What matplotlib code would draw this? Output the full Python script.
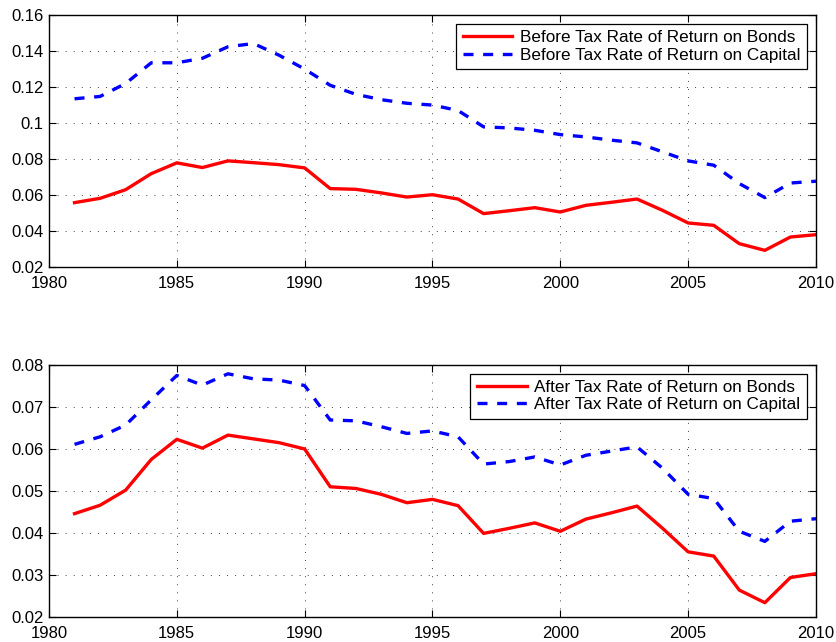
import numpy as np
import matplotlib
matplotlib.use('Agg')
import matplotlib.pyplot as plt

plt.rcParams['font.family'] = ['Liberation Sans', 'DejaVu Sans']

years = list(range(1981, 2011))

before_bonds = [0.0558, 0.0582, 0.0630, 0.0719, 0.0779, 0.0753, 0.0790, 0.0780, 0.0769, 0.0751,
                0.0636, 0.0632, 0.0612, 0.0589, 0.0602, 0.0578, 0.0497, 0.0513, 0.0530, 0.0506,
                0.0543, 0.0560, 0.0578, 0.0515, 0.0445, 0.0432, 0.0330, 0.0293, 0.0367, 0.0380]
before_capital = [0.1135, 0.1148, 0.1220, 0.1335, 0.1335, 0.1360, 0.1424, 0.1442, 0.1377, 0.1300,
                  0.1210, 0.1160, 0.1130, 0.1110, 0.1100, 0.1070, 0.0979, 0.0973, 0.0960, 0.0936,
                  0.0923, 0.0905, 0.0890, 0.0840, 0.0790, 0.0766, 0.0664, 0.0586, 0.0667, 0.0677]
after_bonds = [0.0446, 0.0466, 0.0502, 0.0575, 0.0623, 0.0602, 0.0633, 0.0624, 0.0615, 0.0600,
               0.0510, 0.0506, 0.0492, 0.0472, 0.0480, 0.0465, 0.0399, 0.0411, 0.0424, 0.0404,
               0.0433, 0.0448, 0.0464, 0.0411, 0.0355, 0.0345, 0.0264, 0.0234, 0.0294, 0.0303]
after_capital = [0.0611, 0.0629, 0.0657, 0.0717, 0.0775, 0.0752, 0.0779, 0.0767, 0.0764, 0.0751,
                 0.0669, 0.0667, 0.0653, 0.0637, 0.0643, 0.0629, 0.0564, 0.0570, 0.0581, 0.0562,
                 0.0585, 0.0595, 0.0605, 0.0554, 0.0492, 0.0482, 0.0404, 0.0380, 0.0428, 0.0434]

x_ticks = [1980, 1985, 1990, 1995, 2000, 2005, 2010]
top_yticks = [0.02, 0.04, 0.06, 0.08, 0.1, 0.12, 0.14, 0.16]
top_ylabels = ['0.02', '0.04', '0.06', '0.08', '0.1', '0.12', '0.14', '0.16']
bot_yticks = [0.02, 0.03, 0.04, 0.05, 0.06, 0.07, 0.08]
bot_ylabels = ['0.02', '0.03', '0.04', '0.05', '0.06', '0.07', '0.08']

fig = plt.figure(figsize=(8.37, 6.42), dpi=100)
ax1 = fig.add_axes([0.0585, 0.584, 0.9164, 0.3925])
ax2 = fig.add_axes([0.0585, 0.039, 0.9164, 0.3925])

LW = 2.4
DASH = (3.0, 2.9)


def style_axes(ax, yticks, ylabels):
    ax.set_xlim(1980, 2010)
    ax.set_ylim(yticks[0], yticks[-1])
    ax.set_xticks(x_ticks)
    ax.set_xticklabels([str(t) for t in x_ticks])
    ax.set_yticks(yticks)
    ax.set_yticklabels(ylabels)
    ax.tick_params(direction='in', top=True, right=True, length=5, width=0.8,
                   labelsize=12, colors='black')
    ax.tick_params(axis='y', pad=4)
    ax.tick_params(axis='x', pad=6.5)
    ax.grid(True, linestyle=(0, (1, 7.3)), color='#404040', linewidth=0.7)
    for s in ax.spines.values():
        s.set_linewidth(1.0)


ax1.plot(years, before_bonds, color='#ff0000', lw=LW, label='Before Tax Rate of Return on Bonds')
ax1.plot(years, before_capital, color='#0000ff', lw=LW, dashes=DASH,
         label='Before Tax Rate of Return on Capital')
style_axes(ax1, top_yticks, top_ylabels)

ax2.plot(years, after_bonds, color='#ff0000', lw=LW, label='After Tax Rate of Return on Bonds')
ax2.plot(years, after_capital, color='#0000ff', lw=LW, dashes=DASH,
         label='After Tax Rate of Return on Capital')
style_axes(ax2, bot_yticks, bot_ylabels)

for ax in (ax1, ax2):
    leg = ax.legend(loc='upper right', fontsize=12.3, fancybox=False, framealpha=1,
                    edgecolor='black', borderpad=0.4, labelspacing=0.12,
                    handlelength=2.9, handletextpad=0.45, borderaxespad=0.5)
    leg.get_frame().set_linewidth(0.9)

fig.savefig('out.png', dpi=100)
